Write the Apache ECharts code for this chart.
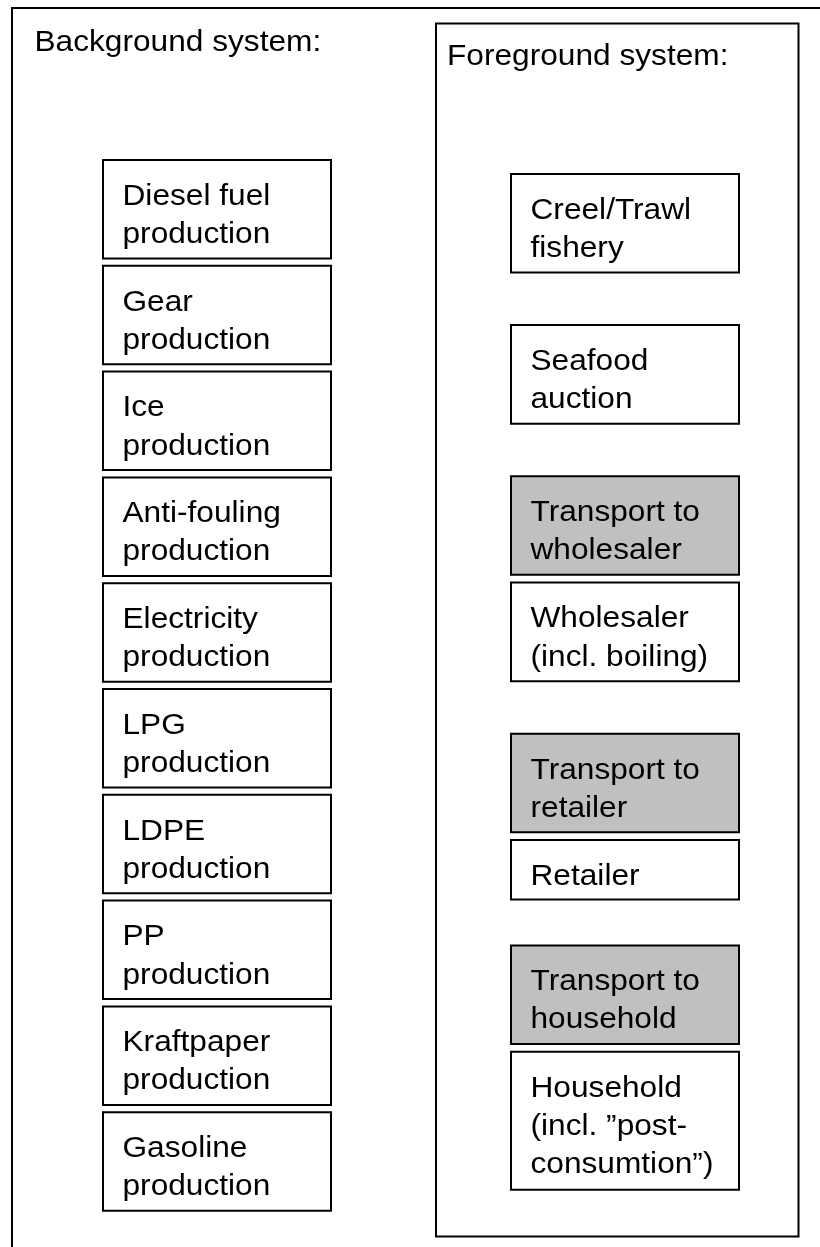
<!DOCTYPE html>
<html>
<head>
<meta charset="utf-8">
<script src="https://cdn.jsdelivr.net/npm/echarts@6/dist/echarts.min.js"></script>
<style>
  html, body { margin: 0; padding: 0; background: #fff; }
  #main { width: 820px; height: 1247px; }
</style>
</head>
<body>
<div id="main"></div>
<script>
// process boxes, top to bottom
var backgroundProcesses = [
  'Diesel fuel\nproduction',
  'Gear\nproduction',
  'Ice\nproduction',
  'Anti-fouling\nproduction',
  'Electricity\nproduction',
  'LPG\nproduction',
  'LDPE\nproduction',
  'PP\nproduction',
  'Kraftpaper\nproduction',
  'Gasoline\nproduction'
];
var foregroundProcesses = [
  'Creel/Trawl\nfishery',
  'Seafood\nauction',
  'Transport to\nwholesaler',
  'Wholesaler\n(incl. boiling)',
  'Transport to\nretailer',
  'Retailer',
  'Transport to\nhousehold',
  'Household\n(incl. \u201dpost-\nconsumtion\u201d)'
];
// which chain stage each foreground box belongs to
var foregroundStage = [0, 1, 2, 2, 3, 3, 4, 4];
var foregroundTransport = [false, false, true, false, true, false, true, false];

var FONT = '"Liberation Sans", Arial, sans-serif';
var FS = 30;
var LH = 38.2;
var SX = 1.055;

// layout (pixel units of the hidden axes)
var boxW = 228;
var bgLeft = 103, bgTop = 160, bgH = 98.5, bgPitch = 105.8;
var fgLeft = 511, fgTop = 174;
var innerGap = 7.8;
var stageGap = [52.5, 52.5, 52.5, 46];

var bgData = backgroundProcesses.map(function (t, i) {
  var y = bgTop + bgPitch * i;
  return [bgLeft, y, bgLeft + boxW, y + bgH];
});

var fgData = [];
var y = fgTop;
foregroundProcesses.forEach(function (t, i) {
  var lines = t.split('\n').length;
  var h = 20 + 39.3 * lines;
  if (i > 0) {
    y += foregroundStage[i] === foregroundStage[i - 1] ? innerGap : stageGap[foregroundStage[i] - 1];
  }
  fgData.push([fgLeft, y, fgLeft + boxW, y + h]);
  y += h;
});

function boxRenderer(labels, shaded) {
  return function (params, api) {
    var p0 = api.coord([api.value(0), api.value(1)]);
    var p1 = api.coord([api.value(2), api.value(3)]);
    var i = params.dataIndex;
    return {
      type: 'group',
      children: [{
        type: 'rect',
        shape: { x: p0[0], y: p0[1], width: p1[0] - p0[0], height: p1[1] - p0[1] },
        style: { fill: shaded && shaded[i] ? '#c0c0c0' : '#fff', stroke: '#000', lineWidth: 2 }
      }, {
        type: 'text',
        x: p0[0] + 19.5,
        y: p0[1] + 17.5,
        scaleX: SX,
        style: {
          text: labels[i],
          fill: '#000',
          font: FS + 'px ' + FONT,
          lineHeight: LH,
          verticalAlign: 'top',
          align: 'left'
        }
      }]
    };
  };
}

var myChart = echarts.init(document.getElementById('main'));
var option = {
  animation: false,
  backgroundColor: '#fff',
  grid: { left: 0, right: 0, top: 0, bottom: 0 },
  xAxis: { type: 'value', min: 0, max: 820, show: false },
  yAxis: { type: 'value', min: 0, max: 1247, inverse: true, show: false },
  graphic: [
    {
      type: 'polyline',
      shape: { points: [[12, 1247], [12, 8], [820, 8]] },
      style: { stroke: '#000', lineWidth: 2, fill: null }
    },
    {
      type: 'rect',
      shape: { x: 436, y: 23.5, width: 362.5, height: 1213 },
      style: { stroke: '#000', lineWidth: 2, fill: '#fff' },
      z: 0
    },
    {
      type: 'text', x: 34.5, y: 23.5, scaleX: SX,
      style: { text: 'Background system:', fill: '#000', font: FS + 'px ' + FONT, lineHeight: LH, verticalAlign: 'top' }
    },
    {
      type: 'text', x: 447, y: 37.5, scaleX: SX,
      style: { text: 'Foreground system:', fill: '#000', font: FS + 'px ' + FONT, lineHeight: LH, verticalAlign: 'top' }
    }
  ],
  series: [
    {
      name: 'Background system',
      type: 'custom',
      coordinateSystem: 'cartesian2d',
      renderItem: boxRenderer(backgroundProcesses, null),
      data: bgData,
      z: 5,
      silent: true
    },
    {
      name: 'Foreground system',
      type: 'custom',
      coordinateSystem: 'cartesian2d',
      renderItem: boxRenderer(foregroundProcesses, foregroundTransport),
      data: fgData,
      z: 5,
      silent: true
    }
  ]
};
myChart.setOption(option);
</script>
</body>
</html>
